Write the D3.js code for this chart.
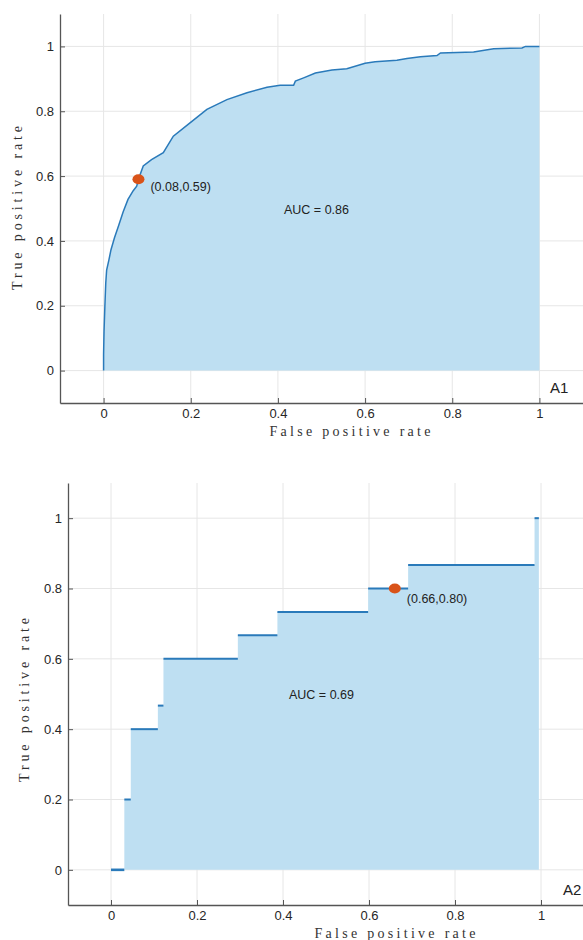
<!DOCTYPE html>
<html>
<head>
<meta charset="utf-8">
<script src="https://cdn.jsdelivr.net/npm/d3@7"></script>
<style>
  body { margin: 0; background: #fff; }
  svg text { font-family: "Liberation Sans", Arial, sans-serif; }
</style>
</head>
<body>
<svg id="chart" width="583" height="940"></svg>
<script>
// tick values shared by both panels
const tickValues = [0, 0.2, 0.4, 0.6, 0.8, 1];
const tickLabels = ["0", "0.2", "0.4", "0.6", "0.8", "1"];

// A1: ROC curve
const fprA1 = [0, 0, 0.001, 0.003, 0.005, 0.007, 0.012, 0.017, 0.025, 0.034, 0.045, 0.056, 0.068, 0.076, 0.08,
  0.091, 0.11, 0.137, 0.16, 0.199, 0.237, 0.283, 0.329, 0.375, 0.405, 0.436, 0.44, 0.459, 0.486, 0.524,
  0.558, 0.6, 0.623, 0.673, 0.696, 0.727, 0.765, 0.773, 0.849, 0.895, 0.96, 0.968, 1];
const tprA1 = [0, 0.05, 0.12, 0.2, 0.27, 0.31, 0.34, 0.373, 0.41, 0.445, 0.49, 0.528, 0.555, 0.569, 0.59,
  0.631, 0.651, 0.672, 0.723, 0.765, 0.806, 0.836, 0.857, 0.874, 0.88, 0.88, 0.893, 0.903, 0.918, 0.927,
  0.931, 0.948, 0.953, 0.957, 0.963, 0.968, 0.972, 0.98, 0.983, 0.993, 0.995, 1, 1];
const pointA1 = [0.08, 0.59];
const aucA1 = 0.86;

// A2: step ROC curve
const fprA2 = [0, 0.031, 0.046, 0.109, 0.122, 0.295, 0.387, 0.598, 0.691, 0.985, 0.995];
const tprA2 = [0, 0.2, 0.4, 0.467, 0.6, 0.667, 0.733, 0.8, 0.867, 1, 1];
const pointA2 = [0.66, 0.80];
const aucA2 = 0.69;

const svg = d3.select("#chart");

function drawPanel(o) {
  const x = d3.scaleLinear().domain([-0.1, 1.1]).range(o.xRange);
  const y = d3.scaleLinear().domain([-0.1, 1.1]).range(o.yRange);
  const g = svg.append("g");

  // grid
  g.selectAll(".vg").data(tickValues).enter().append("line")
    .attr("x1", d => x(d)).attr("x2", d => x(d))
    .attr("y1", o.yRange[0]).attr("y2", o.yRange[1])
    .attr("stroke", "#e6e6e6").attr("stroke-width", 1);
  g.selectAll(".hg").data(tickValues).enter().append("line")
    .attr("y1", d => y(d)).attr("y2", d => y(d))
    .attr("x1", o.xRange[0]).attr("x2", o.xRange[1])
    .attr("stroke", "#e6e6e6").attr("stroke-width", 1);

  const pts = o.fpr.map((f, i) => [f, o.tpr[i]]);

  g.append("path").datum(pts)
    .attr("fill", "#bedff2")
    .attr("d", d3.area().curve(o.curve).x(d => x(d[0])).y0(y(0)).y1(d => y(d[1])));

  if (o.stepped) {
    // only the flat parts of the steps carry a line
    const segs = pts.slice(0, -1).map((d, i) => [d, [pts[i + 1][0], d[1]]]);
    g.selectAll(".seg").data(segs).enter().append("line")
      .attr("x1", d => x(d[0][0])).attr("x2", d => x(d[1][0]))
      .attr("y1", d => y(d[0][1])).attr("y2", d => y(d[1][1]))
      .attr("stroke", "#2a7aba").attr("stroke-width", (d, i) => i === 0 ? 2.6 : o.lw);
  } else {
    g.append("path").datum(pts)
      .attr("fill", "none")
      .attr("stroke", "#2a7aba")
      .attr("stroke-width", o.lw)
      .attr("d", d3.line().curve(o.curve).x(d => x(d[0])).y(d => y(d[1])));
  }

  // axes, MATLAB style inward ticks
  const ax = g.append("g").attr("transform", `translate(0,${o.yRange[0]})`)
    .call(d3.axisBottom(x).tickValues(tickValues).tickFormat((d, i) => tickLabels[i])
      .tickSizeInner(-5).tickSizeOuter(0).tickPadding(6));
  const ay = g.append("g").attr("transform", `translate(${o.xRange[0]},0)`)
    .call(d3.axisLeft(y).tickValues(tickValues).tickFormat((d, i) => tickLabels[i])
      .tickSizeInner(-5).tickSizeOuter(0).tickPadding(6));
  [ax, ay].forEach(a => {
    a.select(".domain").attr("stroke", "#555").attr("stroke-width", 1.3);
    a.selectAll(".tick line").attr("stroke", "#555");
    a.selectAll(".tick text").attr("fill", "#262626")
      .style("font-family", "'Liberation Sans', Arial, sans-serif").attr("font-size", 13);
  });

  // labels
  g.append("text")
    .attr("x", o.xLabelX).attr("y", o.xLabelY)
    .attr("text-anchor", "middle")
    .attr("textLength", 161).attr("lengthAdjust", "spacing")
    .style("font-family", "'Liberation Serif', 'DejaVu Serif', serif")
    .attr("font-size", 14).attr("fill", "#333")
    .text("False positive rate");
  g.append("text")
    .attr("transform", `translate(${o.yLabelX},${o.yLabelY}) rotate(-90)`)
    .attr("text-anchor", "middle")
    .attr("textLength", 164).attr("lengthAdjust", "spacing")
    .style("font-family", "'Liberation Serif', 'DejaVu Serif', serif")
    .attr("font-size", 14).attr("fill", "#333")
    .text("True positive rate");

  g.append("text").attr("x", o.tagX).attr("y", o.tagY)
    .attr("font-size", 15).attr("fill", "#222").text(o.tag);

  // operating point
  g.append("ellipse")
    .attr("cx", x(o.point[0])).attr("cy", y(o.point[1]))
    .attr("rx", 6).attr("ry", 5).attr("fill", "#d95319");
  g.append("text")
    .attr("x", x(o.point[0]) + o.ptDx).attr("y", y(o.point[1]) + o.ptDy)
    .attr("font-size", 12.5).attr("fill", "#222")
    .text(`(${o.point[0].toFixed(2)},${o.point[1].toFixed(2)})`);

  g.append("text").attr("x", o.aucX).attr("y", o.aucY)
    .attr("font-size", 12.5).attr("fill", "#222")
    .text(`AUC = ${o.auc.toFixed(2)}`);
}

drawPanel({
  fpr: fprA1, tpr: tprA1, point: pointA1, auc: aucA1, curve: d3.curveLinear, lw: 1.5, stepped: false,
  xRange: [60, 583], yRange: [403, 14],
  xLabelX: 350, xLabelY: 436, yLabelX: 22, yLabelY: 208,
  tag: "A1", tagX: 550, tagY: 393,
  ptDx: 12, ptDy: 12, aucX: 284, aucY: 214
});

drawPanel({
  fpr: fprA2, tpr: tprA2, point: pointA2, auc: aucA2, curve: d3.curveStepAfter, lw: 2, stepped: true,
  xRange: [68, 584], yRange: [905, 483],
  xLabelX: 395, xLabelY: 938, yLabelX: 29, yLabelY: 700,
  tag: "A2", tagX: 563, tagY: 895,
  ptDx: 12, ptDy: 14, aucX: 289, aucY: 699
});
</script>
</body>
</html>
